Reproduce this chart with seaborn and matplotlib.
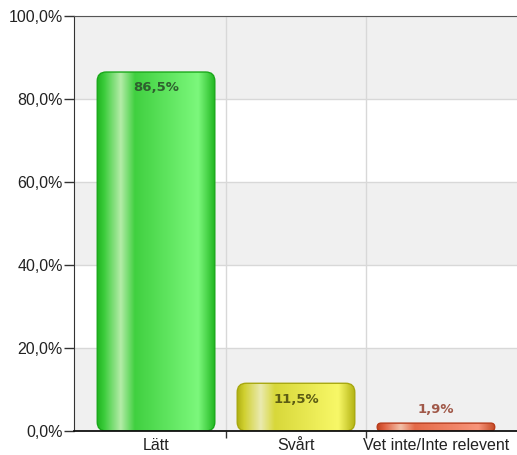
import numpy as np
import pandas as pd
import matplotlib
matplotlib.use("Agg")
import matplotlib.pyplot as plt
import seaborn as sns
from matplotlib.patches import FancyBboxPatch
from matplotlib.colors import LinearSegmentedColormap, to_rgb

categories = ["Lätt", "Svårt", "Vet inte/Inte relevent"]
values = [86.5, 11.5, 1.9]
value_labels = ["86,5%", "11,5%", "1,9%"]
ytick_values = [0, 20, 40, 60, 80, 100]
ytick_labels = ["0,0%", "20,0%", "40,0%", "60,0%", "80,0%", "100,0%"]

# glossy colour stops per bar: edge, base, highlight, base, bright, edge
bar_styles = [
    {"stops": ["#1fb51f", "#3ccc3c", "#b4eca8", "#40d040", "#7cf87c", "#22b822"],
     "edge": "#1aa81a", "text": "#2f5f2f"},
    {"stops": ["#b0b012", "#d0d030", "#eaeab0", "#d8d83a", "#f8f868", "#b4b414"],
     "edge": "#a8a810", "text": "#5c5c14"},
    {"stops": ["#c0431f", "#e06040", "#f2c0a8", "#e46a48", "#f8957a", "#c44a26"],
     "edge": "#b83c1c", "text": "#a05848"},
]
stop_pos = [0.0, 0.06, 0.2, 0.32, 0.86, 1.0]

sns.set_style("white")
plt.rcParams["font.family"] = ["Liberation Sans", "DejaVu Sans"]

fig = plt.figure(figsize=(5.17, 4.55), dpi=100)
ax = fig.add_axes([74 / 517, 24 / 455, 443 / 517, 415 / 455])

df = pd.DataFrame({"cat": categories, "val": values})
sns.barplot(data=df, x="cat", y="val", hue="cat", ax=ax, width=0.84,
            palette=[s["stops"][1] for s in bar_styles], legend=False)

ax.set_xlim(-0.586, 2.579)
ax.set_ylim(0, 100)

# alternating background bands
ax.set_facecolor("white")
for lo in (0, 40, 80):
    ax.axhspan(lo, lo + 20, color="#f0f0f0", zorder=0, lw=0)

# data units per pixel in each direction, for circular corners
px_x = (2.579 + 0.586) / 443
px_y = 100 / 415
asp = px_y / px_x
r_px = 9

for p, style in zip(ax.patches, bar_styles):
    x0, w, h = p.get_x(), p.get_width(), p.get_height()
    p.set_visible(False)
    r = min(r_px * px_x, w / 2, h / asp / 2)
    box = FancyBboxPatch((x0, 0), w, h,
                         boxstyle=f"round,pad=0,rounding_size={r}",
                         mutation_aspect=asp, facecolor="none",
                         edgecolor=style["edge"], lw=1.0, zorder=4)
    ax.add_patch(box)
    cmap = LinearSegmentedColormap.from_list(
        "gloss", list(zip(stop_pos, [to_rgb(c) for c in style["stops"]])))
    grad = np.linspace(0, 1, 256)[None, :]
    im = ax.imshow(grad, extent=(x0, x0 + w, 0, h), aspect="auto",
                   cmap=cmap, zorder=3, interpolation="bilinear")
    im.set_clip_path(box)

# value labels
for i, (v, lab, style) in enumerate(zip(values, value_labels, bar_styles)):
    y = v - 3.8 if v > 5 else v + 3.2
    ax.text(i, y, lab, ha="center", va="center", fontsize=9.5,
            fontweight="bold", family="DejaVu Sans", color=style["text"],
            zorder=5)

# axes, ticks and grid
ax.set_xlabel("")
ax.set_ylabel("")
ax.set_xticks([0, 1, 2])
ax.set_xticklabels(categories)
ax.set_xticks([0.5, 1.5], minor=True)
ax.tick_params(axis="x", which="major", length=0, pad=5, labelsize=11.5,
               labelcolor="#222222")
ax.tick_params(axis="x", which="minor", length=5, width=1, color="#333333",
               direction="out", bottom=True)
ax.set_yticks(ytick_values)
ax.set_yticklabels(ytick_labels)
ax.tick_params(axis="y", length=7, width=1, color="#333333", pad=1,
               labelsize=11.5, labelcolor="#222222", left=True)
ax.xaxis.grid(True, which="minor", color="#d8d8d8", lw=1)
ax.yaxis.grid(True, which="major", color="#d8d8d8", lw=1)
ax.set_axisbelow(True)

ax.spines["right"].set_visible(False)
ax.spines["top"].set_color("#555555")
ax.spines["left"].set_color("#333333")
ax.spines["bottom"].set_color("#111111")
ax.spines["bottom"].set_linewidth(1.3)
for s in ax.spines.values():
    s.set_zorder(6)

fig.savefig("out.png", dpi=100)
